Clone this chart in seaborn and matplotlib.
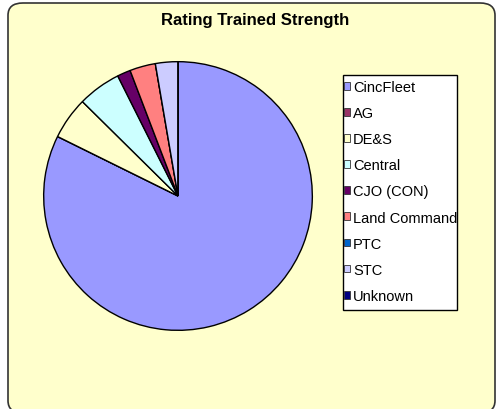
import matplotlib
matplotlib.use("Agg")
import matplotlib.pyplot as plt
from matplotlib.patches import FancyBboxPatch, Rectangle
import seaborn as sns

# data
categories = ["CincFleet", "AG", "DE&S", "Central", "CJO (CON)",
              "Land Command", "PTC", "STC", "Unknown"]
shares = [82.3, 0.0, 5.1, 5.2, 1.6, 3.1, 0.0, 2.7, 0.0]
colors = ["#9999FF", "#993366", "#FFFFCC", "#CCFFFF", "#660066",
          "#FF8080", "#0066CC", "#CCCCFF", "#000080"]

sns.set_theme(style="white")
plt.rcParams["font.family"] = ["Liberation Sans", "DejaVu Sans"]
palette = sns.color_palette(colors)

W, H = 497, 410
fig = plt.figure(figsize=(W / 100, H / 100), dpi=100)
fig.patch.set_facecolor("white")

# rounded chart area
bg = FancyBboxPatch((8 / W, -4 / H), (487 / W), (410 / H),
                    boxstyle="round,pad=0,rounding_size=0.03",
                    transform=fig.transFigure, facecolor="#FFFFCC",
                    edgecolor="#333333", linewidth=1.2, zorder=-5)
fig.patches.append(bg)

# legend box (drawn separately so its size matches the reference)
box = Rectangle((343 / W, 1 - 311 / H), 114 / W, 235 / H,
                transform=fig.transFigure, facecolor="white",
                edgecolor="black", linewidth=1.0, zorder=-4)
fig.patches.append(box)

fig.text(255 / W, 1 - 21 / H, "Rating Trained Strength", ha="center", va="center",
         fontsize=12, fontweight="bold", color="black")

cx, cy, r = 178, 197, 135
ax = fig.add_axes([(cx - r) / W, 1 - (cy + r) / H, 2 * r / W, 2 * r / H])
ax.set_facecolor("none")
ax.set_zorder(2)
wedges, _ = ax.pie(shares, colors=palette, startangle=90, counterclock=False,
                   wedgeprops=dict(edgecolor="black", linewidth=1.0))
ax.set_xlim(-1.005, 1.005)
ax.set_ylim(-1.005, 1.005)
ax.set_aspect("equal")
ax.axis("off")

leg = fig.legend(wedges, categories, loc="upper left",
                 bbox_to_anchor=(343.5 / W, 1 - 81 / H),
                 fontsize=10.5, frameon=False, labelcolor="black",
                 handlelength=0.45, handleheight=0.45,
                 handletextpad=0.2, labelspacing=0.83, borderpad=0,
                 borderaxespad=0)
for h in leg.legend_handles:
    h.set_edgecolor("#333333")
    h.set_linewidth(0.6)

fig.savefig("out.png", dpi=100)
plt.close(fig)
